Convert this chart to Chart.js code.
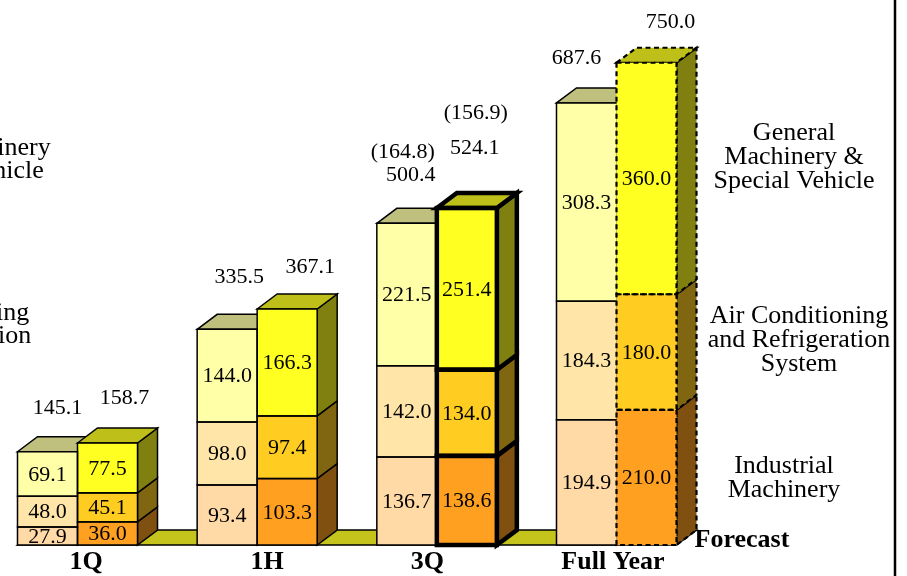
<!DOCTYPE html>
<html>
<head>
<meta charset="utf-8">
<script src="https://cdn.jsdelivr.net/npm/chart.js@4"></script>
<style>
  html, body { margin: 0; padding: 0; background: #fff; }
  #wrap { position: relative; width: 907px; height: 576px; overflow: hidden; background: #fff; }
  #c { position: absolute; left: -140px; top: 0; }
</style>
</head>
<body>
<div id="wrap"><canvas id="c" width="1100" height="576"></canvas></div>
<script>
// ---- data (billions of yen, cumulative) ----
const periods = ['1Q', '1H', '3Q', 'Full Year'];

// previous fiscal year
const prevIndustrial = [27.9, 93.4, 136.7, 194.9];
const prevAirCond    = [48.0, 98.0, 142.0, 184.3];
const prevGeneral    = [69.1, 144.0, 221.5, 308.3];
const prevTotals     = [145.1, 335.5, 500.4, 687.6];
const prevQuarterOnly = [null, null, 164.8, null];

// current fiscal year (Full Year is the forecast)
const curIndustrial = [36.0, 103.3, 138.6, 210.0];
const curAirCond    = [45.1, 97.4, 134.0, 180.0];
const curGeneral    = [77.5, 166.3, 251.4, 360.0];
const curTotals     = [158.7, 367.1, 524.1, 750.0];
const curQuarterOnly = [null, null, 156.9, null];

const segmentRight = [
  ['General', 'Machinery &', 'Special Vehicle'],
  ['Air Conditioning', 'and Refrigeration', 'System'],
  ['Industrial', 'Machinery']
];
const segmentLeft = [
  ['General Machinery', '& Special Vehicle'],
  ['Air Conditioning', 'and Refrigeration']
];
const forecastLabel = 'Forecast';

// ---- styling ----
const prevColors = ['#ffd9a6', '#ffe6a8', '#ffffa8'];
const curColors  = ['#ffa020', '#ffcc22', '#ffff22'];
const floorColor = '#c4c41c';
const curOutline = ['solid', 'solid', 'bold', 'dashed'];
const SHIFT = 140;          // canvas sits 140px left of the frame
const DX = 20, DY = 15;     // 3D depth offset
const SERIF = '"Liberation Serif", "Times New Roman", serif';

// label offsets relative to bar centre / front top
const prevTotalOffset = [[10, 43], [12, 52], [4, 48], [-10, 45]];
const curTotalOffset  = [[17, 45], [23, 42], [8, 60], [24, 41]];
const prevQuarterOffset = [-8, 23];
const curQuarterOffset  = [1, 35];
const catLabelNudge = [8.5, 10, -9.5, -3.5];

function shade(hex, f) {
  const n = parseInt(hex.slice(1), 16);
  const r = Math.round(((n >> 16) & 255) * f);
  const g = Math.round(((n >> 8) & 255) * f);
  const b = Math.round((n & 255) * f);
  return `rgb(${r},${g},${b})`;
}

function applyLine(ctx, style) {
  ctx.strokeStyle = '#000';
  ctx.lineJoin = 'miter';
  if (style === 'bold') { ctx.lineWidth = 4.5; ctx.setLineDash([]); }
  else if (style === 'dashed') { ctx.lineWidth = 2.2; ctx.setLineDash([5, 3.5]); }
  else { ctx.lineWidth = 1.5; ctx.setLineDash([]); }
}

function poly(ctx, pts, fill, style) {
  ctx.beginPath();
  ctx.moveTo(pts[0][0], pts[0][1]);
  for (let k = 1; k < pts.length; k++) ctx.lineTo(pts[k][0], pts[k][1]);
  ctx.closePath();
  if (fill) { ctx.fillStyle = fill; ctx.fill(); }
  applyLine(ctx, style);
  ctx.stroke();
}

function rectOf(chart, ds, i) {
  const el = chart.getDatasetMeta(ds).data[i];
  return {
    l: el.x - el.width / 2, r: el.x + el.width / 2,
    t: Math.min(el.y, el.base), b: Math.max(el.y, el.base), cx: el.x
  };
}

const PREV = [0, 1, 2], CUR = [3, 4, 5];

function draw3D(ctx, chart, dsList, i, colors, style) {
  const rects = dsList.map(d => rectOf(chart, d, i));
  rects.forEach((r, k) => {
    poly(ctx, [[r.r, r.b], [r.r, r.t], [r.r + DX, r.t - DY], [r.r + DX, r.b - DY]],
      shade(colors[k], 0.5), style);
  });
  const top = rects[rects.length - 1];
  poly(ctx, [[top.l, top.t], [top.l + DX, top.t - DY], [top.r + DX, top.t - DY], [top.r, top.t]],
    shade(colors[colors.length - 1], 0.75), style);
}

function text(ctx, s, x, y, font, align, base) {
  ctx.font = font;
  ctx.fillStyle = '#000';
  ctx.textAlign = align || 'center';
  ctx.textBaseline = base || 'middle';
  ctx.fillText(s, x, y);
}

const boxes3D = {
  id: 'boxes3D',
  beforeDatasetsDraw(chart) {
    const ctx = chart.ctx;
    ctx.save();
    // floor strip under all bars
    const first = rectOf(chart, 0, 0);
    const last = rectOf(chart, 3, periods.length - 1);
    poly(ctx, [[first.l, first.b], [first.l + DX, first.b - DY],
               [last.r + DX, last.b - DY], [last.r, last.b]], floorColor, 'solid');
    for (let i = 0; i < periods.length; i++) {
      draw3D(ctx, chart, PREV, i, prevColors, 'solid');
      draw3D(ctx, chart, CUR, i, curColors, curOutline[i]);
    }
    ctx.restore();
  },
  afterDatasetsDraw(chart) {
    const ctx = chart.ctx;
    const y = chart.scales.y, x = chart.scales.x;
    ctx.save();
    for (let i = 0; i < periods.length; i++) {
      // front outlines
      PREV.forEach(d => {
        const r = rectOf(chart, d, i);
        applyLine(ctx, 'solid');
        ctx.beginPath();
        if (curOutline[i] === 'dashed') {
          ctx.moveTo(r.r, r.t); ctx.lineTo(r.l, r.t); ctx.lineTo(r.l, r.b); ctx.lineTo(r.r, r.b);
        } else {
          ctx.rect(r.l, r.t, r.r - r.l, r.b - r.t);
        }
        ctx.stroke();
      });
      CUR.forEach(d => {
        const r = rectOf(chart, d, i);
        applyLine(ctx, curOutline[i]);
        ctx.strokeRect(r.l, r.t, r.r - r.l, r.b - r.t);
      });
      ctx.setLineDash([]);

      // segment values
      const valFont = `22px ${SERIF}`;
      [...PREV, ...CUR].forEach(d => {
        const r = rectOf(chart, d, i);
        const v = chart.data.datasets[d].data[i];
        text(ctx, v.toFixed(1), r.cx, (r.t + r.b) / 2 + 1, valFont);
      });

      // totals above each bar
      const pr = rectOf(chart, 2, i), cr = rectOf(chart, 5, i);
      const pt = y.getPixelForValue(prevTotals[i]);
      const ct = y.getPixelForValue(curTotals[i]);
      const px = pr.cx + prevTotalOffset[i][0], py = pt - prevTotalOffset[i][1];
      const cx = cr.cx + curTotalOffset[i][0], cy = ct - curTotalOffset[i][1];
      text(ctx, prevTotals[i].toFixed(1), px, py, valFont);
      text(ctx, curTotals[i].toFixed(1), cx, cy, valFont);
      if (prevQuarterOnly[i] != null)
        text(ctx, `(${prevQuarterOnly[i].toFixed(1)})`, px + prevQuarterOffset[0], py - prevQuarterOffset[1], valFont);
      if (curQuarterOnly[i] != null)
        text(ctx, `(${curQuarterOnly[i].toFixed(1)})`, cx + curQuarterOffset[0], cy - curQuarterOffset[1], valFont);

      // period labels under the axis
      text(ctx, periods[i], x.getPixelForValue(i) + catLabelNudge[i], 569,
        `bold 26px ${SERIF}`, 'center', 'alphabetic');
    }

    // forecast note beside the last bar
    const last = rectOf(chart, 3, periods.length - 1);
    text(ctx, forecastLabel, last.r + DX - 2, 547, `bold 26px ${SERIF}`, 'left', 'alphabetic');

    // segment names on the right
    const nameFont = `26px ${SERIF}`;
    const rightBlocks = [[794 + SHIFT, 140], [799 + SHIFT, 323], [784 + SHIFT, 473]];
    segmentRight.forEach((lines, k) => {
      lines.forEach((s, j) => text(ctx, s, rightBlocks[k][0], rightBlocks[k][1] + 24 * j,
        nameFont, 'center', 'alphabetic'));
    });
    // segment names on the left, mostly outside the frame
    const leftBlocks = [[-50 + SHIFT, 155], [-60 + SHIFT, 320]];
    segmentLeft.forEach((lines, k) => {
      lines.forEach((s, j) => text(ctx, s, leftBlocks[k][0], leftBlocks[k][1] + 23 * j,
        nameFont, 'center', 'alphabetic'));
    });

    // frame edge on the right
    ctx.strokeStyle = '#000';
    ctx.lineWidth = 2.5;
    ctx.beginPath();
    ctx.moveTo(895 + SHIFT, 0);
    ctx.lineTo(895 + SHIFT, chart.height);
    ctx.stroke();
    ctx.restore();
  }
};

function ds(label, data, color, stack) {
  return {
    label, data, stack,
    backgroundColor: color,
    borderWidth: 0,
    categoryPercentage: 0.668,
    barPercentage: 1.0
  };
}

new Chart(document.getElementById('c'), {
  type: 'bar',
  data: {
    labels: periods,
    datasets: [
      ds('Industrial Machinery (prev)', prevIndustrial, prevColors[0], 'prev'),
      ds('Air Conditioning (prev)', prevAirCond, prevColors[1], 'prev'),
      ds('General Machinery (prev)', prevGeneral, prevColors[2], 'prev'),
      ds('Industrial Machinery', curIndustrial, curColors[0], 'cur'),
      ds('Air Conditioning', curAirCond, curColors[1], 'cur'),
      ds('General Machinery', curGeneral, curColors[2], 'cur')
    ]
  },
  options: {
    responsive: false,
    animation: false,
    events: [],
    devicePixelRatio: 1,
    layout: { padding: { left: 127.67, right: 253.67, top: 30.6, bottom: 31 } },
    plugins: { legend: { display: false }, tooltip: { enabled: false } },
    scales: {
      x: { stacked: true, display: false },
      y: { stacked: true, display: false, min: 0, max: 800 }
    }
  },
  plugins: [boxes3D]
});
</script>
</body>
</html>
